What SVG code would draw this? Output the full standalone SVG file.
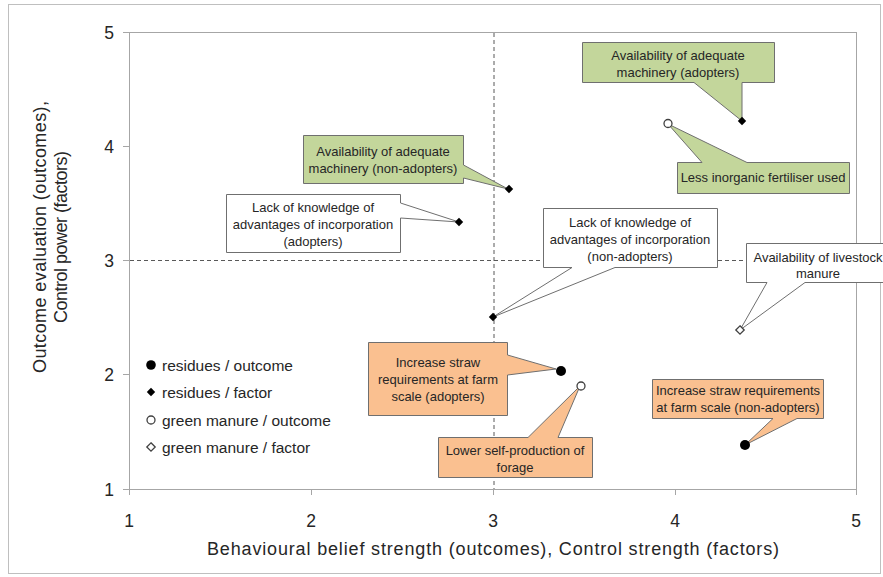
<svg xmlns="http://www.w3.org/2000/svg" width="883" height="577" viewBox="0 0 883 577">
  <style>
    text { font-family: "Liberation Sans", Arial, sans-serif; fill: #262626; }
    .tick { font-size: 17.5px; }
    .title { font-size: 18px; }
    .legend { font-size: 15.5px; }
    .note { font-size: 13px; text-anchor: middle; }
    .green { fill: #C3D69B; stroke: #6f6f6f; stroke-width: 1; }
    .orange { fill: #FAC090; stroke: #6f6f6f; stroke-width: 1; }
    .plain { fill: #ffffff; stroke: #6f6f6f; stroke-width: 1; }
    .axis { stroke: #a6a6a6; stroke-width: 1; fill: none; }
    .guide { stroke: #595959; stroke-width: 1; stroke-dasharray: 4 3; fill: none; }
    .solid { fill: #000000; }
    .open { fill: #ffffff; stroke: #404040; stroke-width: 1.3; }
  </style>
  <defs>
    <path id="dia" d="M0,-4.2 L4.2,0 L0,4.2 L-4.2,0 Z"/>
  </defs>

  <rect x="0" y="0" width="883" height="577" fill="#ffffff"/>
  <!-- chart frame -->
  <rect x="8.5" y="4.5" width="872" height="569" fill="none" stroke="#bfbfbf" stroke-width="1"/>

  <!-- plot area and axes -->
  <g id="axes">
    <rect x="129.5" y="32.5" width="727" height="457" class="axis" stroke="#c8c8c8"/>
    <line x1="129.5" y1="32" x2="129.5" y2="489.5" class="axis" stroke="#8c8c8c"/>
    <line x1="129" y1="489.5" x2="857" y2="489.5" class="axis" stroke="#8c8c8c"/>
    <path class="axis" stroke="#8c8c8c" d="M123,32.5 H129 M123,146.5 H129 M123,260.5 H129 M123,374.5 H129 M123,489.5 H129 M129.5,489 V495 M311.5,489 V495 M493.5,489 V495 M675.5,489 V495 M856.5,489 V495"/>
    <g class="tick" text-anchor="end">
      <text x="114" y="38.5">5</text>
      <text x="114" y="152.5">4</text>
      <text x="114" y="266.5">3</text>
      <text x="114" y="380.5">2</text>
      <text x="114" y="495.5">1</text>
    </g>
    <g class="tick" text-anchor="middle">
      <text x="129" y="527">1</text>
      <text x="311" y="527">2</text>
      <text x="493" y="527">3</text>
      <text x="675" y="527">4</text>
      <text x="856" y="527">5</text>
    </g>
    <text class="title" x="493" y="555" text-anchor="middle" textLength="572" lengthAdjust="spacing">Behavioural belief strength (outcomes), Control strength (factors)</text>
    <g class="title" text-anchor="middle" transform="translate(0,237) rotate(-90)">
      <text x="0" y="46" textLength="272" lengthAdjust="spacing">Outcome evaluation (outcomes),</text>
      <text x="0" y="67" textLength="172" lengthAdjust="spacing">Control power (factors)</text>
    </g>
  </g>

  <!-- reference lines at the scale midpoints -->
  <g id="connectors">
    <line x1="494" y1="33" x2="494" y2="489" class="guide"/>
    <line x1="130" y1="260.5" x2="856" y2="260.5" class="guide"/>
  </g>

  <!-- legend -->
  <g id="legend">
    <circle cx="151" cy="365" r="4.8" class="solid"/>
    <text class="legend" x="162" y="370.5">residues / outcome</text>
    <use href="#dia" x="151" y="392" class="solid"/>
    <text class="legend" x="162" y="397.5">residues / factor</text>
    <circle cx="151" cy="420" r="4" class="open"/>
    <text class="legend" x="162" y="425.5">green manure / outcome</text>
    <use href="#dia" x="151" y="447" class="open"/>
    <text class="legend" x="162" y="452.5">green manure / factor</text>
  </g>

  <!-- callouts -->
  <g id="machinery-adopters">
    <path class="green" d="M582.5,42.5 H774.5 V82.5 H742 L742,121 L694,82.5 H582.5 Z"/>
    <text class="note" x="678" y="60">Availability of adequate</text>
    <text class="note" x="678" y="77">machinery (adopters)</text>
  </g>
  <g id="less-fertiliser">
    <path class="green" d="M677.5,162.5 H702 L668,124 L747,162.5 H849.5 V193.5 H677.5 Z"/>
    <text class="note" x="763" y="182">Less inorganic fertiliser used</text>
  </g>
  <g id="machinery-non-adopters">
    <path class="green" d="M303.5,135.5 H463.5 V165 L508,189 L463.5,178 V183.5 H303.5 Z"/>
    <text class="note" x="383" y="156">Availability of adequate</text>
    <text class="note" x="383" y="173">machinery (non-adopters)</text>
  </g>
  <g id="knowledge-adopters">
    <path class="plain" d="M226.5,194.5 H400.5 V203 L459,222 L400.5,218 V252.5 H226.5 Z"/>
    <text class="note" x="313" y="212">Lack of knowledge of</text>
    <text class="note" x="313" y="229">advantages of incorporation</text>
    <text class="note" x="313" y="246">(adopters)</text>
  </g>
  <g id="knowledge-non-adopters">
    <path class="plain" d="M543.5,208.5 H717.5 V267.5 H615 L493,317 L572,267.5 H543.5 Z"/>
    <text class="note" x="630" y="227">Lack of knowledge of</text>
    <text class="note" x="630" y="244">advantages of incorporation</text>
    <text class="note" x="630" y="261">(non-adopters)</text>
  </g>
  <g id="livestock-manure">
    <path class="plain" d="M746.5,243.5 H896 V282.5 H805 L740,330 L767,282.5 H746.5 Z"/>
    <text class="note" x="818" y="262">Availability of livestock</text>
    <text class="note" x="818" y="278">manure</text>
  </g>
  <g id="straw-adopters">
    <path class="orange" d="M368.5,342.5 H507.5 V355 L556,369 L507.5,375 V415.5 H368.5 Z"/>
    <text class="note" x="438" y="366.5">Increase straw</text>
    <text class="note" x="438" y="383.5">requirements at farm</text>
    <text class="note" x="438" y="400.5">scale (adopters)</text>
  </g>
  <g id="self-production">
    <path class="orange" d="M438.5,437.5 H528 L580,386 L558,437.5 H592.5 V477.5 H438.5 Z"/>
    <text class="note" x="515" y="455">Lower self-production of</text>
    <text class="note" x="515" y="472">forage</text>
  </g>
  <g id="straw-non-adopters">
    <path class="orange" d="M652.5,379.5 H823.5 V418.5 H797 L745,445 L773,418.5 H652.5 Z"/>
    <text class="note" x="738" y="395">Increase straw requirements</text>
    <text class="note" x="738" y="412">at farm scale (non-adopters)</text>
  </g>

  <!-- data points -->
  <g id="points">
    <use href="#dia" x="742" y="121" class="solid"/>
    <circle cx="668" cy="123.5" r="4" class="open"/>
    <use href="#dia" x="509" y="189" class="solid"/>
    <use href="#dia" x="459" y="222" class="solid"/>
    <use href="#dia" x="493" y="317" class="solid"/>
    <use href="#dia" x="740" y="330" class="open"/>
    <circle cx="561" cy="371" r="5" class="solid"/>
    <circle cx="581" cy="386" r="4" class="open"/>
    <circle cx="745" cy="445" r="5" class="solid"/>
  </g>
</svg>
